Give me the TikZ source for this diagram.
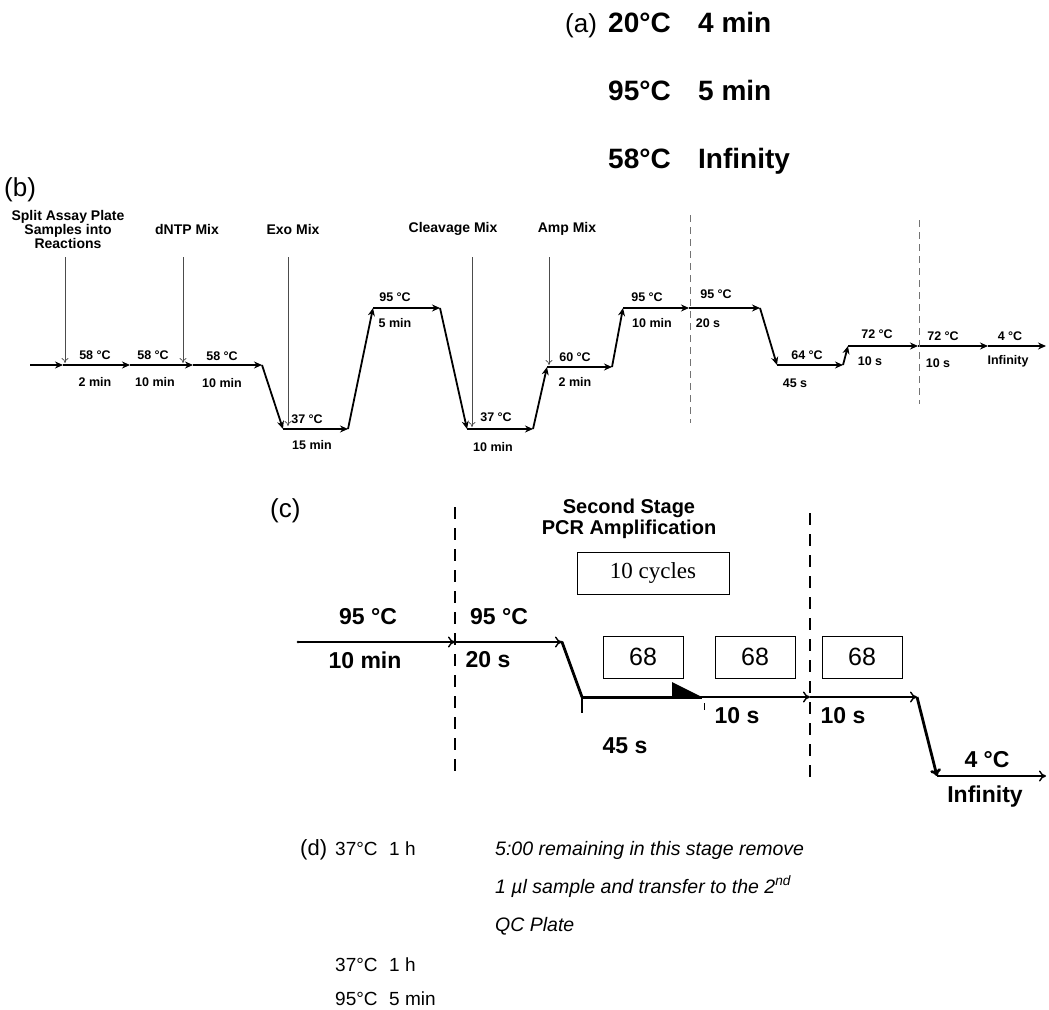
\documentclass[tikz,border=0pt]{standalone}
\usepackage{fontspec}
\setmainfont{Liberation Sans}
\newfontfamily\cycfont{Liberation Serif}
\usetikzlibrary{arrows.meta}
\tikzset{
  lbl/.style={inner sep=0pt, font=\fontsize{12.5}{14}\selectfont\bfseries},
  toplbl/.style={inner sep=0pt, align=center, font=\fontsize{14}{14}\selectfont\bfseries},
  bigA/.style={inner sep=0pt, anchor=base west, font=\fontsize{28}{30}\selectfont\bfseries},
  plbl/.style={inner sep=0pt, anchor=base west, font=\fontsize{26}{30}\selectfont},
  flowb/.style={line width=1.8pt, -{Stealth[length=8pt,width=7pt]}},
  addb/.style={line width=0.7pt, draw=black!70, -{To[length=5pt,width=7pt]}},
  sepb/.style={line width=0.8pt, draw=black!55, dash pattern=on 7pt off 5pt},
  clbl/.style={inner sep=0pt, font=\fontsize{23}{26}\selectfont\bfseries},
  thinc/.style={line width=1.4pt, -{To[length=7pt,width=11pt]}},
  thickc/.style={line width=2.8pt, -{To[length=7pt,width=11pt]}},
  sepc/.style={line width=2.2pt, dash pattern=on 12pt off 9pt},
  box68/.style={draw, line width=1pt, minimum width=80pt, minimum height=42pt, inner sep=0pt, font=\fontsize{25}{28}\selectfont},
  dtxt/.style={inner sep=0pt, anchor=base west, font=\fontsize{19}{24}\selectfont},
  ditx/.style={inner sep=0pt, anchor=base west, font=\fontsize{19.5}{24}\selectfont\itshape},
}
\begin{document}
\begin{tikzpicture}[x=1pt,y=-1pt]
\useasboundingbox (0,0) rectangle (1049,1009);
% ---------------- (a)
\node[plbl] (alab) at (565,32) {(a)};
\node[bigA] (a1t) at (608,32) {20°C};
\node[bigA] (a1d) at (698,32) {4 min};
\node[bigA] (a2t) at (608,100) {95°C};
\node[bigA] (a2d) at (698,100) {5 min};
\node[bigA] (a3t) at (608,168) {58°C};
\node[bigA] (a3d) at (698,168) {Infinity};
% ---------------- (b)
\node[plbl] (blab) at (4,196) {(b)};
\foreach \n/\x/\y in {b0/30/365,b1/63/365,b2/130/365,b3/193/365,b4/262/365,b5/283/429,b6/348/429,b7/373/308,b8/440/308,b9/467/429,b10/533/429,b11/547/367,b12/612/367,b13/623/308,b14/689/308,b15/760/308,b16/777/365,b17/843/365,b18/848/346,b19/918/346,b20/988/346,b21/1046/346}
  \coordinate (\n) at (\x,\y);
\foreach \a/\b in {b0/b1,b1/b2,b2/b3,b3/b4,b4/b5,b5/b6,b6/b7,b7/b8,b8/b9,b9/b10,b10/b11,b11/b12,b12/b13,b13/b14,b14/b15,b15/b16,b16/b17,b17/b18,b18/b19,b19/b20,b20/b21}
  \draw[flowb] (\a) -- (\b);
% additions
\node[toplbl] (split) at (68,229) {Split Assay Plate\\Samples into\\Reactions};
\node[toplbl] (dntp) at (187,229) {dNTP Mix};
\node[toplbl] (exo) at (293,229) {Exo Mix};
\node[toplbl] (cleav) at (453,229) {Cleavage Mix};
\node[toplbl] (amp) at (567,229) {Amp Mix};
\coordinate (s1) at (65,257); \coordinate (e1) at (65,363);
\coordinate (s2) at (183,257); \coordinate (e2) at (183,363);
\coordinate (s3) at (288,257); \coordinate (e3) at (288,426);
\coordinate (s4) at (472,257); \coordinate (e4) at (472,427);
\coordinate (s5) at (549,257); \coordinate (e5) at (549,365);
\foreach \i in {1,...,5} \draw[addb] (s\i) -- (e\i);
% separators
\coordinate (d1t) at (690,215); \coordinate (d1b) at (690,423);
\coordinate (d2t) at (919,220); \coordinate (d2b) at (919,404);
\draw[sepb] (d1t) -- (d1b);
\draw[sepb] (d2t) -- (d2b);
% labels
\node[lbl] (t1) at (95,355) {58 °C};  \node[lbl] (m1) at (95,382) {2 min};
\node[lbl] (t2) at (153,355) {58 °C}; \node[lbl] (m2) at (155,382) {10 min};
\node[lbl] (t3) at (222,356) {58 °C}; \node[lbl] (m3) at (222,383) {10 min};
\node[lbl] (t4) at (307,419) {37 °C}; \node[lbl] (m4) at (312,445) {15 min};
\node[lbl] (t5) at (395,297) {95 °C}; \node[lbl] (m5) at (395,323) {5 min};
\node[lbl] (t6) at (496,417) {37 °C}; \node[lbl] (m6) at (493,447) {10 min};
\node[lbl] (t7) at (575,357) {60 °C}; \node[lbl] (m7) at (575,382) {2 min};
\node[lbl] (t8) at (647,297) {95 °C}; \node[lbl] (m8) at (652,323) {10 min};
\node[lbl] (t9) at (716,294) {95 °C}; \node[lbl] (m9) at (708,323) {20 s};
\node[lbl] (t10) at (807,355) {64 °C}; \node[lbl] (m10) at (795,383) {45 s};
\node[lbl] (t11) at (877,334) {72 °C}; \node[lbl] (m11) at (870,361) {10 s};
\node[lbl] (t12) at (943,336) {72 °C}; \node[lbl] (m12) at (938,363) {10 s};
\node[lbl] (t13) at (1010,336) {4 °C}; \node[lbl] (m13) at (1008,361) {Infinity};
% ---------------- (c)
\node[plbl] (clab) at (270,517) {(c)};
\node[inner sep=0pt, align=center, font=\fontsize{20}{21}\selectfont\bfseries] (stage) at (629,519) {Second Stage\\PCR Amplification};
\node[draw, line width=1pt, minimum width=152pt, minimum height=42pt, inner sep=0pt, font=\cycfont\fontsize{23}{26}\selectfont] (cyc) at (653,573) {10 cycles};
\node[box68] (bx1) at (643,657) {68};
\node[box68] (bx2) at (755,657) {68};
\node[box68] (bx3) at (862,657) {68};
\foreach \n/\x/\y in {c0/298/642,c1/455/642,c2/562/642,c3/582/697,c4/702/697,c5/810/697,c6/917/697,c7/937/776,c8/1046/776}
  \coordinate (\n) at (\x,\y);
\fill (c0) circle (1.3pt);
\draw[thinc] (c0) -- (c1);
\draw[thinc] (c1) -- (c2);
\draw[line width=2.8pt, line cap=round] (c2) -- (c3);
\draw[line width=3pt] (c3) -- (c4);
\coordinate (h1) at (672,682); \coordinate (h2) at (672,697);
\fill (h1) -- (c4) -- (h2) -- cycle;
\coordinate (k1) at (582,713); \draw[line width=1.2pt] (c3) -- (k1);
\coordinate (k2) at (704,703); \coordinate (k3) at (704,710); \draw[line width=1pt] (k2) -- (k3);
\draw[thinc] (c4) -- (c5);
\draw[thinc] (c5) -- (c6);
\draw[thickc] (c6) -- (c7);
\draw[thinc] (c7) -- (c8);
\coordinate (dc1t) at (455,507); \coordinate (dc1b) at (455,773);
\coordinate (dc2t) at (810,513); \coordinate (dc2b) at (810,780);
\draw[sepc] (dc1t) -- (dc1b);
\draw[sepc] (dc2t) -- (dc2b);
\node[clbl] (ct1) at (368,617) {95 °C};
\node[clbl] (cm1) at (365,660) {10 min};
\node[clbl] (ct2) at (499,617) {95 °C};
\node[clbl] (cm2) at (488,660) {20 s};
\node[clbl] (cm3) at (625,746) {45 s};
\node[clbl] (cm4) at (737,716) {10 s};
\node[clbl] (cm5) at (843,716) {10 s};
\node[clbl] (ct6) at (987,760) {4 °C};
\node[clbl] (cm6) at (985,797) {Infinity};
% ---------------- (d)
\node[inner sep=0pt, anchor=base west, font=\fontsize{22}{26}\selectfont] (dlab) at (300,855) {(d)};
\node[dtxt] (d1t) at (335,855) {37°C};
\node[dtxt] (d1d) at (389,855) {1 h};
\node[ditx] (n1) at (495,855) {5:00 remaining in this stage remove};
\node[ditx] (n2) at (495,893) {1 µl sample and transfer to the 2\textsuperscript{nd}};
\node[ditx] (n3) at (495,931) {QC Plate};
\node[dtxt] (d2t) at (335,971) {37°C};
\node[dtxt] (d2d) at (389,971) {1 h};
\node[dtxt] (d3t) at (335,1005) {95°C};
\node[dtxt] (d3d) at (389,1005) {5 min};
\end{tikzpicture}
\end{document}
